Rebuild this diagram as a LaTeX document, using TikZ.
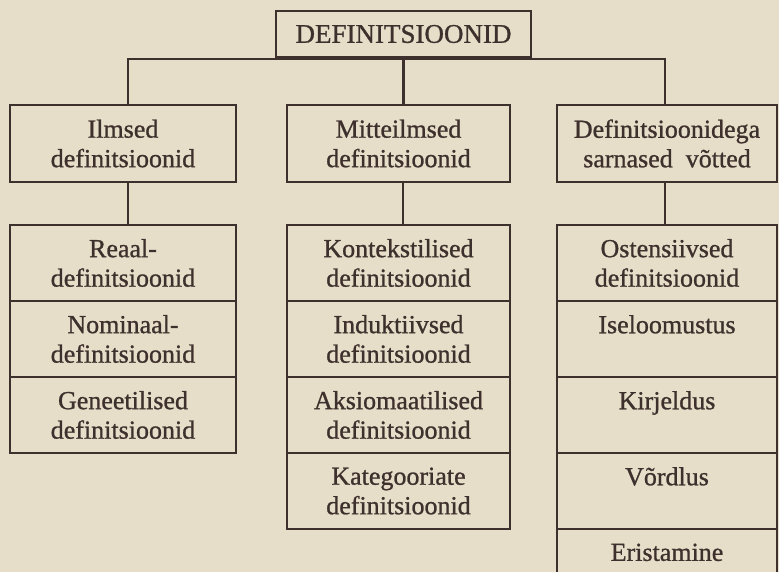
\documentclass[tikz,border=0pt]{standalone}
\usepackage{fontspec}
\setmainfont{Liberation Serif}[FakeBold=0.9]
\usetikzlibrary{positioning}
\definecolor{paper}{RGB}{231,222,201}
\definecolor{ink}{RGB}{62,48,44}
\tikzset{%
    every node/.style={font=\fontsize{26}{29.5}\selectfont, text=ink},
    box/.style={rectangle, draw=ink, line width=2.7pt, align=center,
        inner sep=0pt, outer sep=0pt, minimum height=76pt},
    link/.style={draw=ink, line width=2.7pt}
}

\begin{document}
\begin{tikzpicture}[x=1pt, y=-1pt]
  \path[use as bounding box, fill=paper] (0,0) rectangle (779,572);
  \clip (0,0) rectangle (779,572);

  \node (defs) [box, minimum width=255pt, minimum height=46pt,
    font=\fontsize{27}{30}\selectfont] at (403.5,34) {DEFINITSIOONID};

  \node (ilm) [box, minimum width=226pt, minimum height=77pt] at (123,143.5)
    {Ilmsed\\definitsioonid};
  \node (mitte) [box, minimum width=223pt, minimum height=77pt] at (398.5,143.5)
    {Mitteilmsed\\definitsioonid};
  \node (sarn) [box, minimum width=220pt, minimum height=77pt] at (667,143.5)
    {Definitsioonidega\\sarnased\ \ võtted};

  \node (real) [box, minimum width=226pt] at (123,263) {Reaal-\\definitsioonid};
  \node (nomi) [box, minimum width=226pt, below=0pt of real] {Nominaal-\\definitsioonid};
  \node (gene) [box, minimum width=226pt, below=0pt of nomi] {Geneetilised\\definitsioonid};

  \node (kont) [box, minimum width=223pt] at (398.5,263) {Kontekstilised\\definitsioonid};
  \node (indu) [box, minimum width=223pt, below=0pt of kont] {Induktiivsed\\definitsioonid};
  \node (aksi) [box, minimum width=223pt, below=0pt of indu] {Aksiomaatilised\\definitsioonid};
  \node (kate) [box, minimum width=223pt, below=0pt of aksi] {Kategooriate\\definitsioonid};

  \node (oste) [box, minimum width=220pt] at (667,263) {Ostensiivsed\\definitsioonid};
  \node (isel) [box, minimum width=220pt, below=0pt of oste] {Iseloomustus\\\mbox{}};
  \node (kirj) [box, minimum width=220pt, below=0pt of isel] {Kirjeldus\\\mbox{}};
  \node (vord) [box, minimum width=220pt, below=0pt of kirj] {Võrdlus\\\mbox{}};
  \node (eris) [box, minimum width=220pt, below=0pt of vord] {Eristamine\\\mbox{}};

  % tree lines, drawn a little off the box centres as in print
  \coordinate (bus) at (403,59);
  \draw [link] ([xshift=5pt]ilm.north) |- (bus) -| ([xshift=-2pt]sarn.north);
  \draw [link] (defs.south) -- (defs.south |- mitte.north);
  \draw [link] ([xshift=5pt]ilm.south) -- ([xshift=5pt]real.north);
  \draw [link] ([xshift=4.5pt]mitte.south) -- ([xshift=4.5pt]kont.north);
  \draw [link] ([xshift=-2pt]sarn.south) -- ([xshift=-2pt]oste.north);
\end{tikzpicture}
\end{document}
